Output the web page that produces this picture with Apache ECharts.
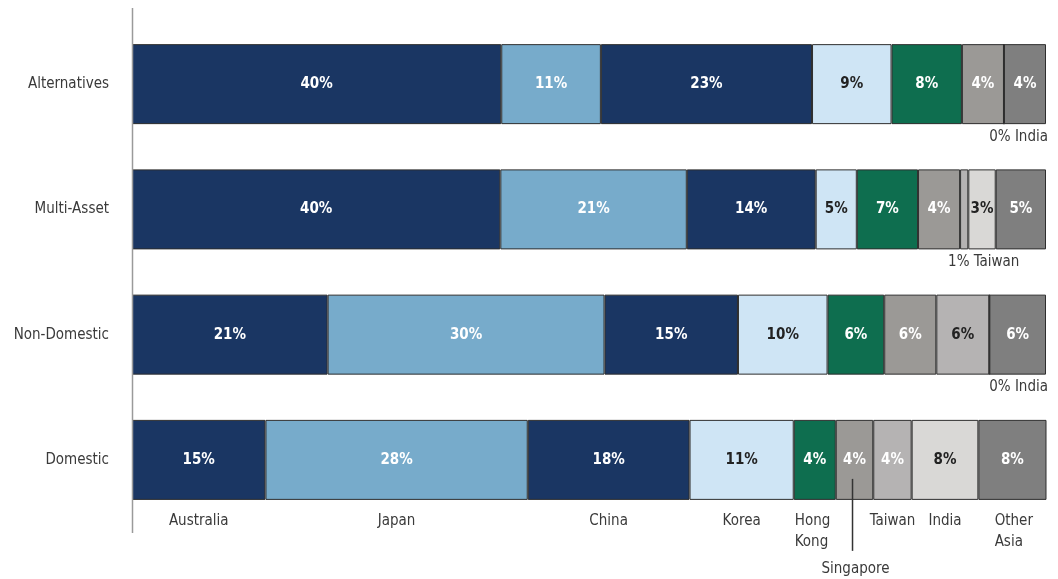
<!DOCTYPE html>
<html>
<head>
<meta charset="utf-8">
<script src="https://cdn.jsdelivr.net/npm/echarts@6/dist/echarts.min.js"></script>
<style>
html,body{margin:0;padding:0;background:#fff;}
#chart{width:1058px;height:579px;}
</style>
</head>
<body>
<div id="chart"></div>
<script>
// ---- DATA ----
const categories = ['Domestic', 'Non-Domestic', 'Multi-Asset', 'Alternatives'];
const countries = ['Australia', 'Japan', 'China', 'Korea', 'Hong Kong', 'Singapore', 'Taiwan', 'India', 'Other Asia'];
const countryTickLabels = ['Australia', 'Japan', 'China', 'Korea', 'Hong\nKong', 'Singapore', 'Taiwan', 'India', 'Other\nAsia'];

// segment widths (% of total), in category order above
const australia = [14.6, 21.4, 40.3, 40.4];
const japan     = [28.7, 30.3, 20.4, 10.9];
const china     = [17.7, 14.6, 14.1, 23.1];
const korea     = [11.4, 9.8, 4.5, 8.7];
const hongKong  = [4.6, 6.2, 6.7, 7.7];
const singapore = [4.1, 5.7, 4.6, 4.6];
const taiwan    = [4.2, 5.8, 0.9, 0];
const india     = [7.3, 0, 3.0, 0];
const otherAsia = [7.5, 6.2, 5.5, 4.6];

// printed labels
const australiaLabels = ['15%', '21%', '40%', '40%'];
const japanLabels     = ['28%', '30%', '21%', '11%'];
const chinaLabels     = ['18%', '15%', '14%', '23%'];
const koreaLabels     = ['11%', '10%', '5%', '9%'];
const hongKongLabels  = ['4%', '6%', '7%', '8%'];
const singaporeLabels = ['4%', '6%', '4%', '4%'];
const taiwanLabels    = ['4%', '6%', '', ''];
const indiaLabels     = ['8%', '', '3%', ''];
const otherAsiaLabels = ['8%', '6%', '5%', '4%'];

// small segments annotated below the bar
const notes = [
  { category: 'Alternatives', country: 'India', text: '0% India' },
  { category: 'Multi-Asset', country: 'Taiwan', text: '1% Taiwan' },
  { category: 'Non-Domestic', country: 'India', text: '0% India' }
];

// ---- STYLE ----
const seriesValues = [australia, japan, china, korea, hongKong, singapore, taiwan, india, otherAsia];
const seriesLabels = [australiaLabels, japanLabels, chinaLabels, koreaLabels, hongKongLabels, singaporeLabels, taiwanLabels, indiaLabels, otherAsiaLabels];
const colors = ['#1a3663', '#77abcb', '#1a3663', '#cfe5f5', '#0e6e4f', '#9b9996', '#b5b3b3', '#d9d8d6', '#7f7f7f'];
const W = '#ffffff', D = '#222222';
const labelColors = [
  [W, W, W, W], [W, W, W, W], [W, W, W, W], [D, D, D, D], [W, W, W, W],
  [W, W, W, W], [W, D, D, D], [D, D, D, D], [W, W, W, W]
];
const FONT = "'Liberation Sans Narrow', 'DejaVu Sans Condensed', sans-serif";
const BAR_W = 80;
const GRID = { left: 132, top: 21.5, width: 914, height: 501 };

// cumulative extents [start, end] per category & series
const cum = categories.map((_, ci) => {
  let s = 0;
  return seriesValues.map(v => { const st = s; s += v[ci]; return [st, s]; });
});

const barSeries = countries.map((name, si) => ({
  name: name,
  type: 'bar',
  stack: 'total',
  barWidth: BAR_W,
  silent: true,
  itemStyle: { color: colors[si], borderColor: '#2e2e2e', borderWidth: 1 },
  data: seriesValues[si].map((v, ci) => ({
    value: v,
    label: {
      show: seriesLabels[si][ci] !== '',
      formatter: seriesLabels[si][ci],
      color: labelColors[si][ci]
    }
  })),
  label: {
    position: 'inside',
    fontFamily: FONT, fontWeight: 'bold', fontSize: 15
  }
}));

// country names under the Domestic bar
const tickSeries = {
  type: 'custom',
  silent: true,
  z: 10,
  data: countries.map((c, i) => [cum[0][i][0], cum[0][i][1], 0]),
  renderItem: function (params, api) {
    const i = params.dataIndex;
    const s = api.coord([api.value(0), api.value(2)]);
    const e = api.coord([api.value(1), api.value(2)]);
    const cx = (s[0] + e[0]) / 2;
    const bottom = s[1] + BAR_W / 2;
    const name = countries[i];
    const base = { fontFamily: FONT, fontSize: 15, fill: '#3a3a3a', lineHeight: 21, verticalAlign: 'top' };
    if (name === 'Singapore') {
      return {
        type: 'group',
        children: [
          { type: 'line', shape: { x1: cx - 2, y1: s[1] + 19, x2: cx - 2, y2: bottom + 51 }, style: { stroke: '#333', lineWidth: 1.5 } },
          { type: 'text', style: Object.assign({}, base, { text: countryTickLabels[i], x: cx + 1, y: bottom + 59, align: 'center' }) }
        ]
      };
    }
    let x = cx, align = 'center';
    if (name === 'Hong Kong') { x = s[0] + 1; align = 'left'; }
    if (name === 'Other Asia') { x = cx - 18; align = 'left'; }
    return { type: 'text', style: Object.assign({}, base, { text: countryTickLabels[i], x: x, y: bottom + 11, align: align }) };
  }
};

// annotations for tiny segments
const noteSeries = {
  type: 'custom',
  silent: true,
  z: 10,
  data: notes.map(n => {
    const ci = categories.indexOf(n.category);
    const si = countries.indexOf(n.country);
    return [cum[ci][si][0], cum[ci][seriesValues.length - 1][1], ci];
  }),
  renderItem: function (params, api) {
    const n = notes[params.dataIndex];
    const segStart = api.coord([api.value(0), api.value(2)]);
    const barEnd = api.coord([api.value(1), api.value(2)]);
    const bottom = segStart[1] + BAR_W / 2;
    const isIndia = n.country === 'India';
    return {
      type: 'text',
      style: {
        text: n.text, fontFamily: FONT, fontSize: 15, fill: '#3a3a3a',
        x: isIndia ? barEnd[0] + 2 : segStart[0] - 12,
        y: bottom + 5, verticalAlign: 'top',
        align: isIndia ? 'right' : 'left'
      }
    };
  }
};

const chart = echarts.init(document.getElementById('chart'), null, { renderer: 'canvas' });
chart.setOption({
  animation: false,
  backgroundColor: '#ffffff',
  grid: { left: GRID.left, top: GRID.top, width: GRID.width, height: GRID.height, containLabel: false },
  xAxis: { type: 'value', min: 0, max: 100, show: false },
  yAxis: {
    type: 'category',
    data: categories,
    axisLine: { show: false },
    axisTick: { show: false },
    splitLine: { show: false },
    axisLabel: { fontFamily: FONT, fontSize: 15, color: '#3a3a3a', margin: 23 }
  },
  graphic: [
    { type: 'line', shape: { x1: GRID.left + 0.5, y1: 8, x2: GRID.left + 0.5, y2: 533 }, style: { stroke: '#9a9a9a', lineWidth: 1.5 }, z: 100 }
  ],
  series: barSeries.concat([tickSeries, noteSeries])
});
</script>
</body>
</html>
